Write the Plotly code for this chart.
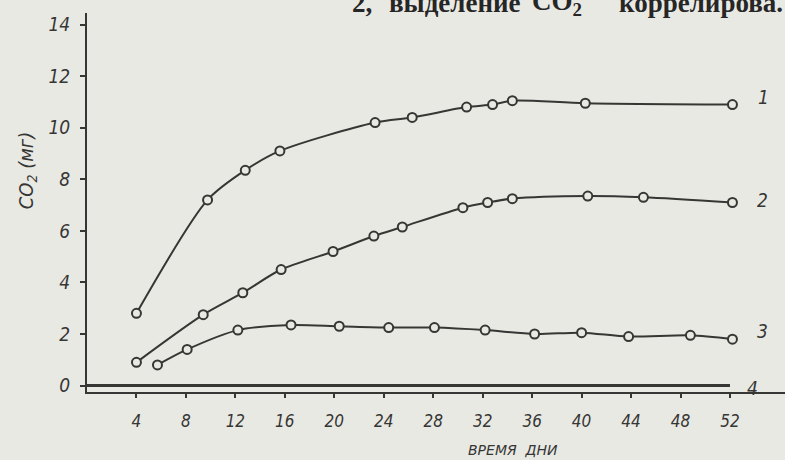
import plotly.graph_objects as go

# Data (days, CO2 mg)
days_1 = [4, 9.75, 12.8, 15.6, 23.3, 26.3, 30.7, 32.8, 34.4, 40.3, 52.2]
co2_1 = [2.8, 7.2, 8.35, 9.1, 10.2, 10.4, 10.8, 10.9, 11.05, 10.95, 10.9]

days_2 = [4, 9.4, 12.6, 15.7, 19.9, 23.2, 25.5, 30.4, 32.4, 34.4, 40.5, 45.0, 52.2]
co2_2 = [0.9, 2.75, 3.6, 4.5, 5.2, 5.8, 6.15, 6.9, 7.1, 7.25, 7.35, 7.3, 7.1]

days_3 = [5.7, 8.1, 12.2, 16.5, 20.4, 24.4, 28.1, 32.2, 36.2, 40.0, 43.8, 48.8, 52.2]
co2_3 = [0.8, 1.4, 2.15, 2.35, 2.3, 2.25, 2.25, 2.15, 2.0, 2.05, 1.9, 1.95, 1.8]

days_4 = [0, 52]
co2_4 = [0, 0]

x_ticks = [4, 8, 12, 16, 20, 24, 28, 32, 36, 40, 44, 48, 52]
x_tick_text = ["4", "8", "12", "16", "20", "24", "28", "32", "36", "40", "44", "48", "52"]
y_ticks = [0, 2, 4, 6, 8, 10, 12, 14]
y_tick_text = ["0", "2", "4", "6", "8", "10", "12", "14"]

curve_labels = ["1", "2", "3", "4"]
x_title = "ВРЕМЯ  ДНИ"
y_title = "CO<sub>2</sub> (мг)"
page_words = ["2,", "выделение", "CO<sub>2</sub>", "коррелирова."]

INK = "#363634"
PAPER = "#e9e9e4"
HAND = "DejaVu Sans Condensed, DejaVu Sans"

fig = go.Figure()

for xs, ys in [(days_1, co2_1), (days_2, co2_2), (days_3, co2_3)]:
    fig.add_trace(go.Scatter(
        x=xs, y=ys, mode="lines+markers",
        line=dict(color=INK, width=2, shape="spline", smoothing=0.8),
        marker=dict(symbol="circle", size=9, color=PAPER,
                    line=dict(color=INK, width=2)),
        showlegend=False, hoverinfo="x+y",
    ))

fig.add_trace(go.Scatter(
    x=days_4, y=co2_4, mode="lines",
    line=dict(color=INK, width=3),
    showlegend=False, hoverinfo="skip",
))

label_pos = [(54.7, 11.2), (54.6, 7.2), (54.6, 2.1), (53.8, -0.1)]
for lab, (lx, ly) in zip(curve_labels, label_pos):
    fig.add_annotation(x=lx, y=ly, text=lab, showarrow=False,
                       font=dict(family=HAND, size=19, color=INK, style="italic"))

fig.add_annotation(xref="paper", yref="paper", x=0.611, y=-0.152,
                   text=x_title, showarrow=False, xanchor="center", yanchor="middle",
                   font=dict(family="DejaVu Sans", size=14, color=INK, style="italic"))

fig.add_annotation(xref="paper", yref="paper", x=-0.086, y=0.585,
                   text=y_title, showarrow=False, textangle=-90,
                   xanchor="center", yanchor="middle",
                   font=dict(family=HAND, size=20, color=INK, style="italic"))

word_x = [0.3768, 0.4298, 0.6347, 0.7593]
for w, wx in zip(page_words, word_x):
    fig.add_annotation(xref="paper", yref="paper", x=wx, y=1.026,
                       xanchor="left", yanchor="middle", text=w, showarrow=False,
                       font=dict(family="Liberation Serif", size=27,
                                 color="#262626", weight="bold"))

fig.update_layout(
    width=785, height=460,
    margin=dict(l=87, r=0, t=13, b=68),
    paper_bgcolor=PAPER, plot_bgcolor=PAPER,
    xaxis=dict(range=[0, 56.45], tickvals=x_ticks, ticktext=x_tick_text,
               showgrid=False, zeroline=False, showline=True,
               linecolor=INK, linewidth=1.5, ticks="outside", ticklen=4,
               tickcolor=INK, tickwidth=1.5, ticklabelstandoff=9,
               tickfont=dict(family=HAND, size=17, color=INK, style="italic")),
    yaxis=dict(range=[-0.25, 14.45], tickvals=y_ticks, ticktext=y_tick_text,
               showgrid=False, zeroline=False, showline=True,
               linecolor=INK, linewidth=2, ticks="outside", ticklen=5,
               tickcolor=INK, tickwidth=1.5, ticklabelstandoff=6,
               tickfont=dict(family=HAND, size=19, color=INK, style="italic")),
)

fig.write_html(
    "out.html",
    config={"displayModeBar": False},
    post_script="document.body.style.margin='0';document.body.style.padding='0';"
                "document.documentElement.style.overflow='hidden';",
)
